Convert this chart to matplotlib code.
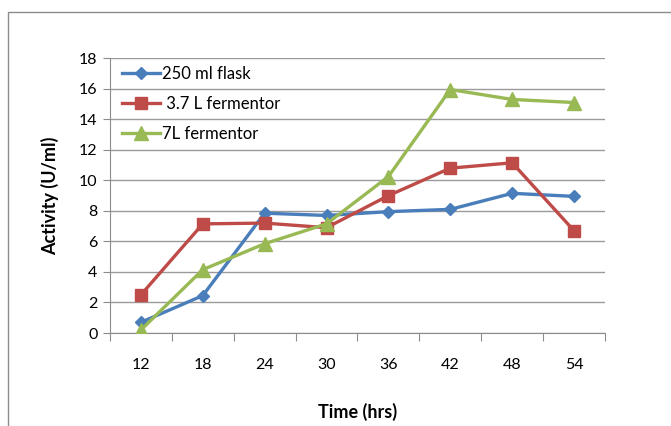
import matplotlib
matplotlib.use('Agg')
import matplotlib.pyplot as plt
from matplotlib.patches import Rectangle
import numpy as np

plt.rcParams['font.family'] = ['Lato', 'DejaVu Sans']

#------- dados -------#
horas = ['12', '18', '24', '30', '36', '42', '48', '54']
frasco_250ml = [0.7, 2.45, 7.85, 7.7, 7.95, 8.1, 9.15, 8.95]
fermentador_37L = [2.5, 7.15, 7.2, 6.9, 9.0, 10.8, 11.15, 6.7]
fermentador_7L = [0.2, 4.15, 5.85, 7.15, 10.25, 15.95, 15.3, 15.1]

fig = plt.figure(figsize=(6.71, 4.26), dpi=100)
ax = fig.add_axes([0.1639, 0.2183, 0.7377, 0.645])

# moldura externa
fig.patches.append(Rectangle((8 / 671, -0.1), 1.2, 1 - 12 / 426 + 0.1,
                             transform=fig.transFigure, fill=False,
                             edgecolor='#8c8c8c', linewidth=1.0))

x = np.arange(len(horas)) + 0.5
ax.plot(x, frasco_250ml, color='#4A7EBB', marker='D', markersize=6.5,
        linewidth=2.4, label='250 ml flask', zorder=3)
ax.plot(x, fermentador_37L, color='#BE4B48', marker='s', markersize=9,
        linewidth=2.4, label=' 3.7 L fermentor', zorder=3)
ax.plot(x, fermentador_7L, color='#98B954', marker='^', markersize=9.5,
        linewidth=2.4, label='7L fermentor', zorder=4)

ax.set_xlim(0, len(horas))
ax.set_ylim(0, 18)
ax.set_yticks(np.arange(0, 19, 2))
ax.yaxis.grid(True, color='#9a9a9a', linewidth=1.0)
ax.set_axisbelow(True)

ax.set_xticks(np.arange(0, len(horas) + 1))
ax.set_xticklabels([])
ax.set_xticks(x, minor=True)
ax.set_xticklabels(horas, minor=True)
ax.tick_params(axis='x', which='major', length=6, color='#8c8c8c', direction='out')
ax.tick_params(axis='x', which='minor', length=0, pad=18, labelsize=11.5)
ax.tick_params(axis='y', length=5, color='#8c8c8c', labelsize=11.5, pad=4)

for lado in ['top', 'right']:
    ax.spines[lado].set_visible(False)
for lado in ['left', 'bottom']:
    ax.spines[lado].set_color('#8c8c8c')

ax.set_xlabel('Time (hrs)', fontsize=13, fontweight='bold', labelpad=22)
ax.set_ylabel('Activity (U/ml)', fontsize=13, fontweight='bold', labelpad=14)

ax.legend(loc='upper left', bbox_to_anchor=(0.0, 1.015), frameon=False,
          fontsize=12, handlelength=2.3, handletextpad=0.1, labelspacing=0.85,
          borderaxespad=0.3)

fig.savefig('out.png', dpi=100)
